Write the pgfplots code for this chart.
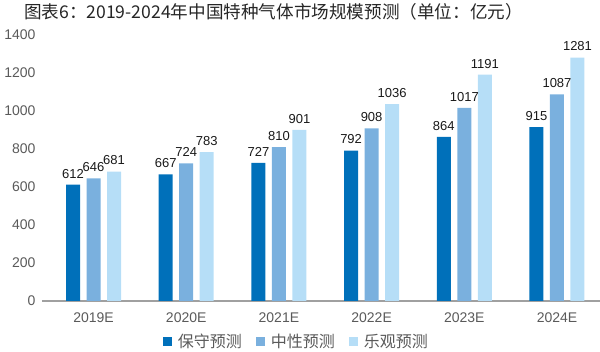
\documentclass[border=0pt]{standalone}
\usepackage{pgfplots}
\pgfplotsset{compat=1.18}
\usepackage{fontspec}
\setmainfont{Liberation Sans}
\newfontfamily\cjk{Noto Sans CJK SC}
\definecolor{c1}{RGB}{0,112,186}
\definecolor{c2}{RGB}{122,176,222}
\definecolor{c3}{RGB}{182,222,247}
\definecolor{tickgray}{RGB}{90,90,90}
\definecolor{axgray}{RGB}{160,160,160}
\begin{document}
\begin{tikzpicture}[x=1pt,y=1pt]
\useasboundingbox (0,0) rectangle (600,351);
\node[font=\cjk\fontsize{17.6}{19}\selectfont, text=black!85] at (273.5,339) {图表6：2019-2024年中国特种气体市场规模预测（单位：亿元）};
\begin{axis}[
  at={(42pt,50pt)}, anchor=south west,
  scale only axis, width=558pt, height=266pt,
  xmin=-0.556, xmax=5.464, ymin=0, ymax=1400,
  ytick={0,200,...,1400},
  xtick={0,1,2,3,4,5},
  xticklabels={2019E,2020E,2021E,2022E,2023E,2024E},
  axis x line=bottom, axis y line=left,
  x axis line style={-, draw=axgray, line width=1.3pt},
  y axis line style={draw=none},
  major tick length=0pt,
  /pgf/number format/assume math mode=true,
  /pgf/number format/1000 sep={},
  tick label style={font=\fontsize{14}{16}\selectfont, text=tickgray},
  yticklabel style={xshift=-3pt},
  xticklabel style={yshift=-8pt},
  ybar=6.5pt, bar width=14pt,
  nodes near coords,
  every node near coord/.append style={font=\fontsize{13}{15}\selectfont, text=black!90, yshift=3pt, /pgf/number format/assume math mode=true},
  legend columns=3,
  legend style={at={(0.456,-0.154)}, anchor=center, draw=none, fill=none,
    font=\cjk\fontsize{16}{18}\selectfont, text=tickgray,
    /tikz/every odd column/.append style={column sep=4pt},
    /tikz/every even column/.append style={column sep=12pt}},
  legend image code/.code={\fill[#1] (0pt,-4.5pt) rectangle (9pt,4.5pt);},
]
\addplot[fill=c1, draw=none] coordinates {(0,612) (1,667) (2,727) (3,792) (4,864) (5,915)};
\addplot[fill=c2, draw=none] coordinates {(0,646) (1,724) (2,810) (3,908) (4,1017) (5,1087)};
\addplot[fill=c3, draw=none] coordinates {(0,681) (1,783) (2,901) (3,1036) (4,1191) (5,1281)};
\legend{保守预测, 中性预测, 乐观预测}
\end{axis}
\end{tikzpicture}
\end{document}
